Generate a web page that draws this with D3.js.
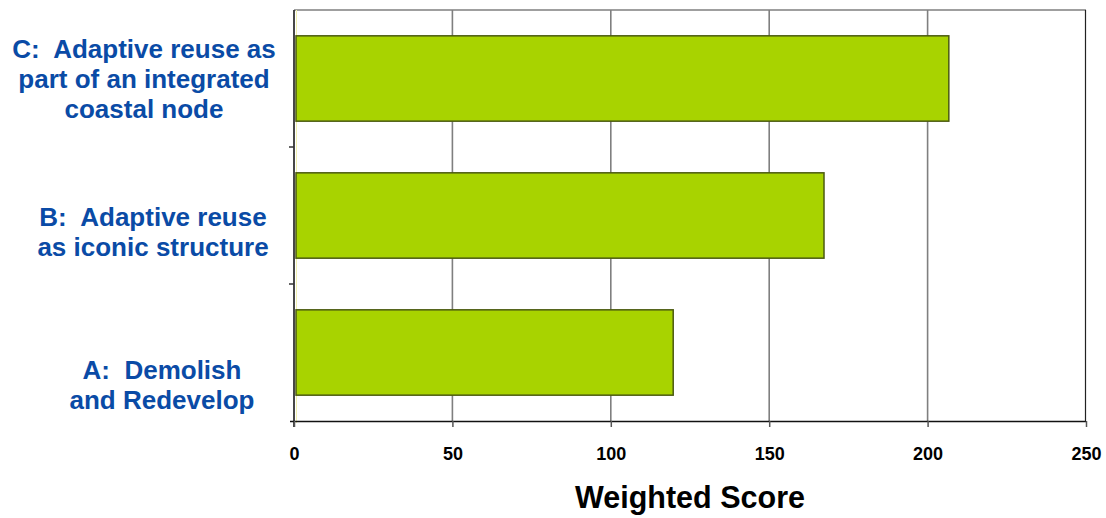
<!DOCTYPE html>
<html>
<head>
<meta charset="utf-8">
<script src="https://cdn.jsdelivr.net/npm/d3@7"></script>
<style>
  html, body { margin: 0; padding: 0; background: #ffffff; }
  svg { display: block; }
  text { font-family: Arial, "Liberation Sans", sans-serif; font-weight: bold; }
  .cat { white-space: pre; }
</style>
</head>
<body>
<svg id="chart" width="1106" height="518"></svg>
<script>
// ---- data ----
const categories = ["C", "B", "A"];            // top to bottom
const categoryLabels = [
  ["C:  Adaptive reuse as", "part of an integrated", "coastal node"],
  ["B:  Adaptive reuse", "as iconic structure"],
  ["A:  Demolish", "and Redevelop"]
];
const scores = [206.7, 167.3, 119.7];
const xTicks = [0, 50, 100, 150, 200, 250];
const xTitle = "Weighted Score";

// ---- layout (not data) ----
const plot = { left: 294, right: 1086, top: 10, bottom: 421 };
const labelLayout = {            // label block centre x and first-baseline offset from band centre
  C: { cx: 144, dy: -20.5 },
  B: { cx: 153, dy: 10.5 },
  A: { cx: 162, dy: 26.5 }
};
const lineGap = 30;

const svg = d3.select("#chart");

const x = d3.scaleLinear().domain([0, 250]).range([plot.left, plot.right]);
const y = d3.scaleBand().domain(categories).range([plot.top, plot.bottom])
  .paddingInner(0.377).paddingOuter(0.1885);
const yStep = d3.scaleBand().domain(categories).range([plot.top, plot.bottom]);

// gridlines
svg.append("g").selectAll("line").data(xTicks.filter(d => d > 0 && d < 250)).join("line")
  .attr("x1", d => x(d)).attr("x2", d => x(d))
  .attr("y1", plot.top).attr("y2", plot.bottom)
  .attr("stroke", "#7f7f7f").attr("stroke-width", 1.6);

// top border
svg.append("line")
  .attr("x1", plot.left).attr("x2", plot.right)
  .attr("y1", plot.top).attr("y2", plot.top)
  .attr("stroke", "#7f7f7f").attr("stroke-width", 1.6);
// right border
svg.append("line")
  .attr("x1", plot.right - 0.5).attr("x2", plot.right - 0.5)
  .attr("y1", plot.top).attr("y2", plot.bottom)
  .attr("stroke", "#222").attr("stroke-width", 1.2);
// faint inner plot edge
svg.append("line")
  .attr("x1", plot.left + 2.5).attr("x2", plot.left + 2.5)
  .attr("y1", plot.top).attr("y2", plot.bottom + 2)
  .attr("stroke", "#f0f0b0").attr("stroke-width", 1);

// bars
svg.append("g").selectAll("rect").data(categories).join("rect")
  .attr("x", x(0) + 2)
  .attr("y", (d) => y(d))
  .attr("width", (d, i) => x(scores[i]) - x(0) - 2)
  .attr("height", y.bandwidth())
  .attr("fill", "#a8d300")
  .attr("stroke", "#4b5a10")
  .attr("stroke-width", 1.5);

// left axis
svg.append("line")
  .attr("x1", plot.left).attr("x2", plot.left)
  .attr("y1", plot.top).attr("y2", plot.bottom + 6)
  .attr("stroke", "#333").attr("stroke-width", 1.8);
// category separator ticks
svg.append("g").selectAll("line").data(categories.slice(1)).join("line")
  .attr("x1", plot.left - 5).attr("x2", plot.left)
  .attr("y1", d => yStep(d)).attr("y2", d => yStep(d))
  .attr("stroke", "#333").attr("stroke-width", 1.5);

// bottom axis
const xAxis = d3.axisBottom(x).tickValues(xTicks).tickSize(6).tickSizeOuter(0).tickPadding(20);
const gx = svg.append("g").attr("transform", `translate(0,${plot.bottom})`).call(xAxis);
gx.select(".domain").attr("stroke", "#111").attr("stroke-width", 1.6)
  .attr("d", `M${plot.left - 4},0.5H${plot.right}`);
gx.selectAll(".tick line").attr("stroke", "#555").attr("stroke-width", 1.5);
gx.selectAll(".tick text")
  .attr("font-size", 18).attr("font-weight", "bold")
  .attr("font-family", "Arial, 'Liberation Sans', sans-serif")
  .attr("fill", "#000");

// category labels
categories.forEach((c, i) => {
  const lay = labelLayout[c];
  const cy = yStep(c) + yStep.bandwidth() / 2;
  const t = svg.append("text")
    .attr("class", "cat")
    .attr("xml:space", "preserve")
    .attr("text-anchor", "middle")
    .attr("font-size", 26)
    .attr("fill", "#0a4ba6");
  categoryLabels[i].forEach((line, k) => {
    t.append("tspan").attr("x", lay.cx).attr("y", cy + lay.dy + k * lineGap).text(line);
  });
});

// x title
svg.append("text")
  .attr("x", (plot.left + plot.right) / 2)
  .attr("y", 508)
  .attr("text-anchor", "middle")
  .attr("font-size", 30.5)
  .attr("fill", "#000")
  .text(xTitle);
</script>
</body>
</html>
